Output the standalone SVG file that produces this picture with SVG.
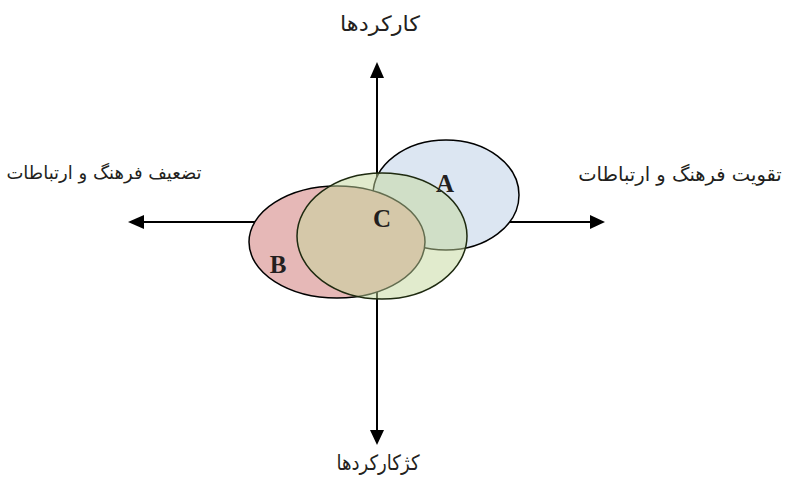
<svg xmlns="http://www.w3.org/2000/svg" width="795" height="477" viewBox="0 0 795 477">
<style>
.axis{stroke:#000;stroke-width:2;fill:none}
.head{fill:#000}
.ell{stroke:#000;stroke-width:1.5}
.lbl{font-family:"DejaVu Sans","Noto Sans",sans-serif;font-size:21px;fill:#231f20}
.side{font-family:"DejaVu Sans","Noto Sans",sans-serif;font-size:19.5px;fill:#231f20}
.let{font-family:"Liberation Serif",serif;font-weight:bold;font-size:25px;fill:#231f20;text-anchor:middle}
</style>
<rect width="795" height="477" fill="#fff"/>
<g id="connectors">
<line class="axis" x1="144" y1="222" x2="590" y2="222"/>
<line class="axis" x1="377" y1="78" x2="377" y2="430"/>
<polygon class="head" points="128,222 144,215 144,229"/>
<polygon class="head" points="605,222 590,215 590,229"/>
<polygon class="head" points="377,62 370,78 384,78"/>
<polygon class="head" points="377,445 370,430 384,430"/>
</g>
<g id="node-A">
<ellipse class="ell" cx="446" cy="195" rx="73" ry="55" fill="#dce6f2"/>
</g>
<g id="node-B">
<ellipse class="ell" cx="337" cy="242" rx="88" ry="56" fill="#e6b8b7"/>
</g>
<g id="node-C">
<ellipse cx="382" cy="236" rx="85" ry="63" fill="#c4d79b" fill-opacity="0.5" stroke="#1e2a10" stroke-width="1.5"/>
</g>
<text class="let" x="445" y="192">A</text>
<text class="let" x="382" y="227">C</text>
<text class="let" x="278" y="273">B</text>
<g id="label-top"><text class="lbl" x="380" y="31" text-anchor="middle" direction="rtl" textLength="80" lengthAdjust="spacingAndGlyphs">کارکردها</text></g>
<g id="label-bottom"><text class="lbl" x="378" y="470" text-anchor="middle" direction="rtl" textLength="83" lengthAdjust="spacingAndGlyphs">کژکارکردها</text></g>
<g id="label-right"><text class="side" x="680" y="181" text-anchor="middle" direction="rtl">تقویت فرهنگ و ارتباطات</text></g>
<g id="label-left"><text class="side" x="104" y="179" text-anchor="middle" direction="rtl" style="font-size:18px">تضعیف فرهنگ و ارتباطات</text></g>
</svg>
